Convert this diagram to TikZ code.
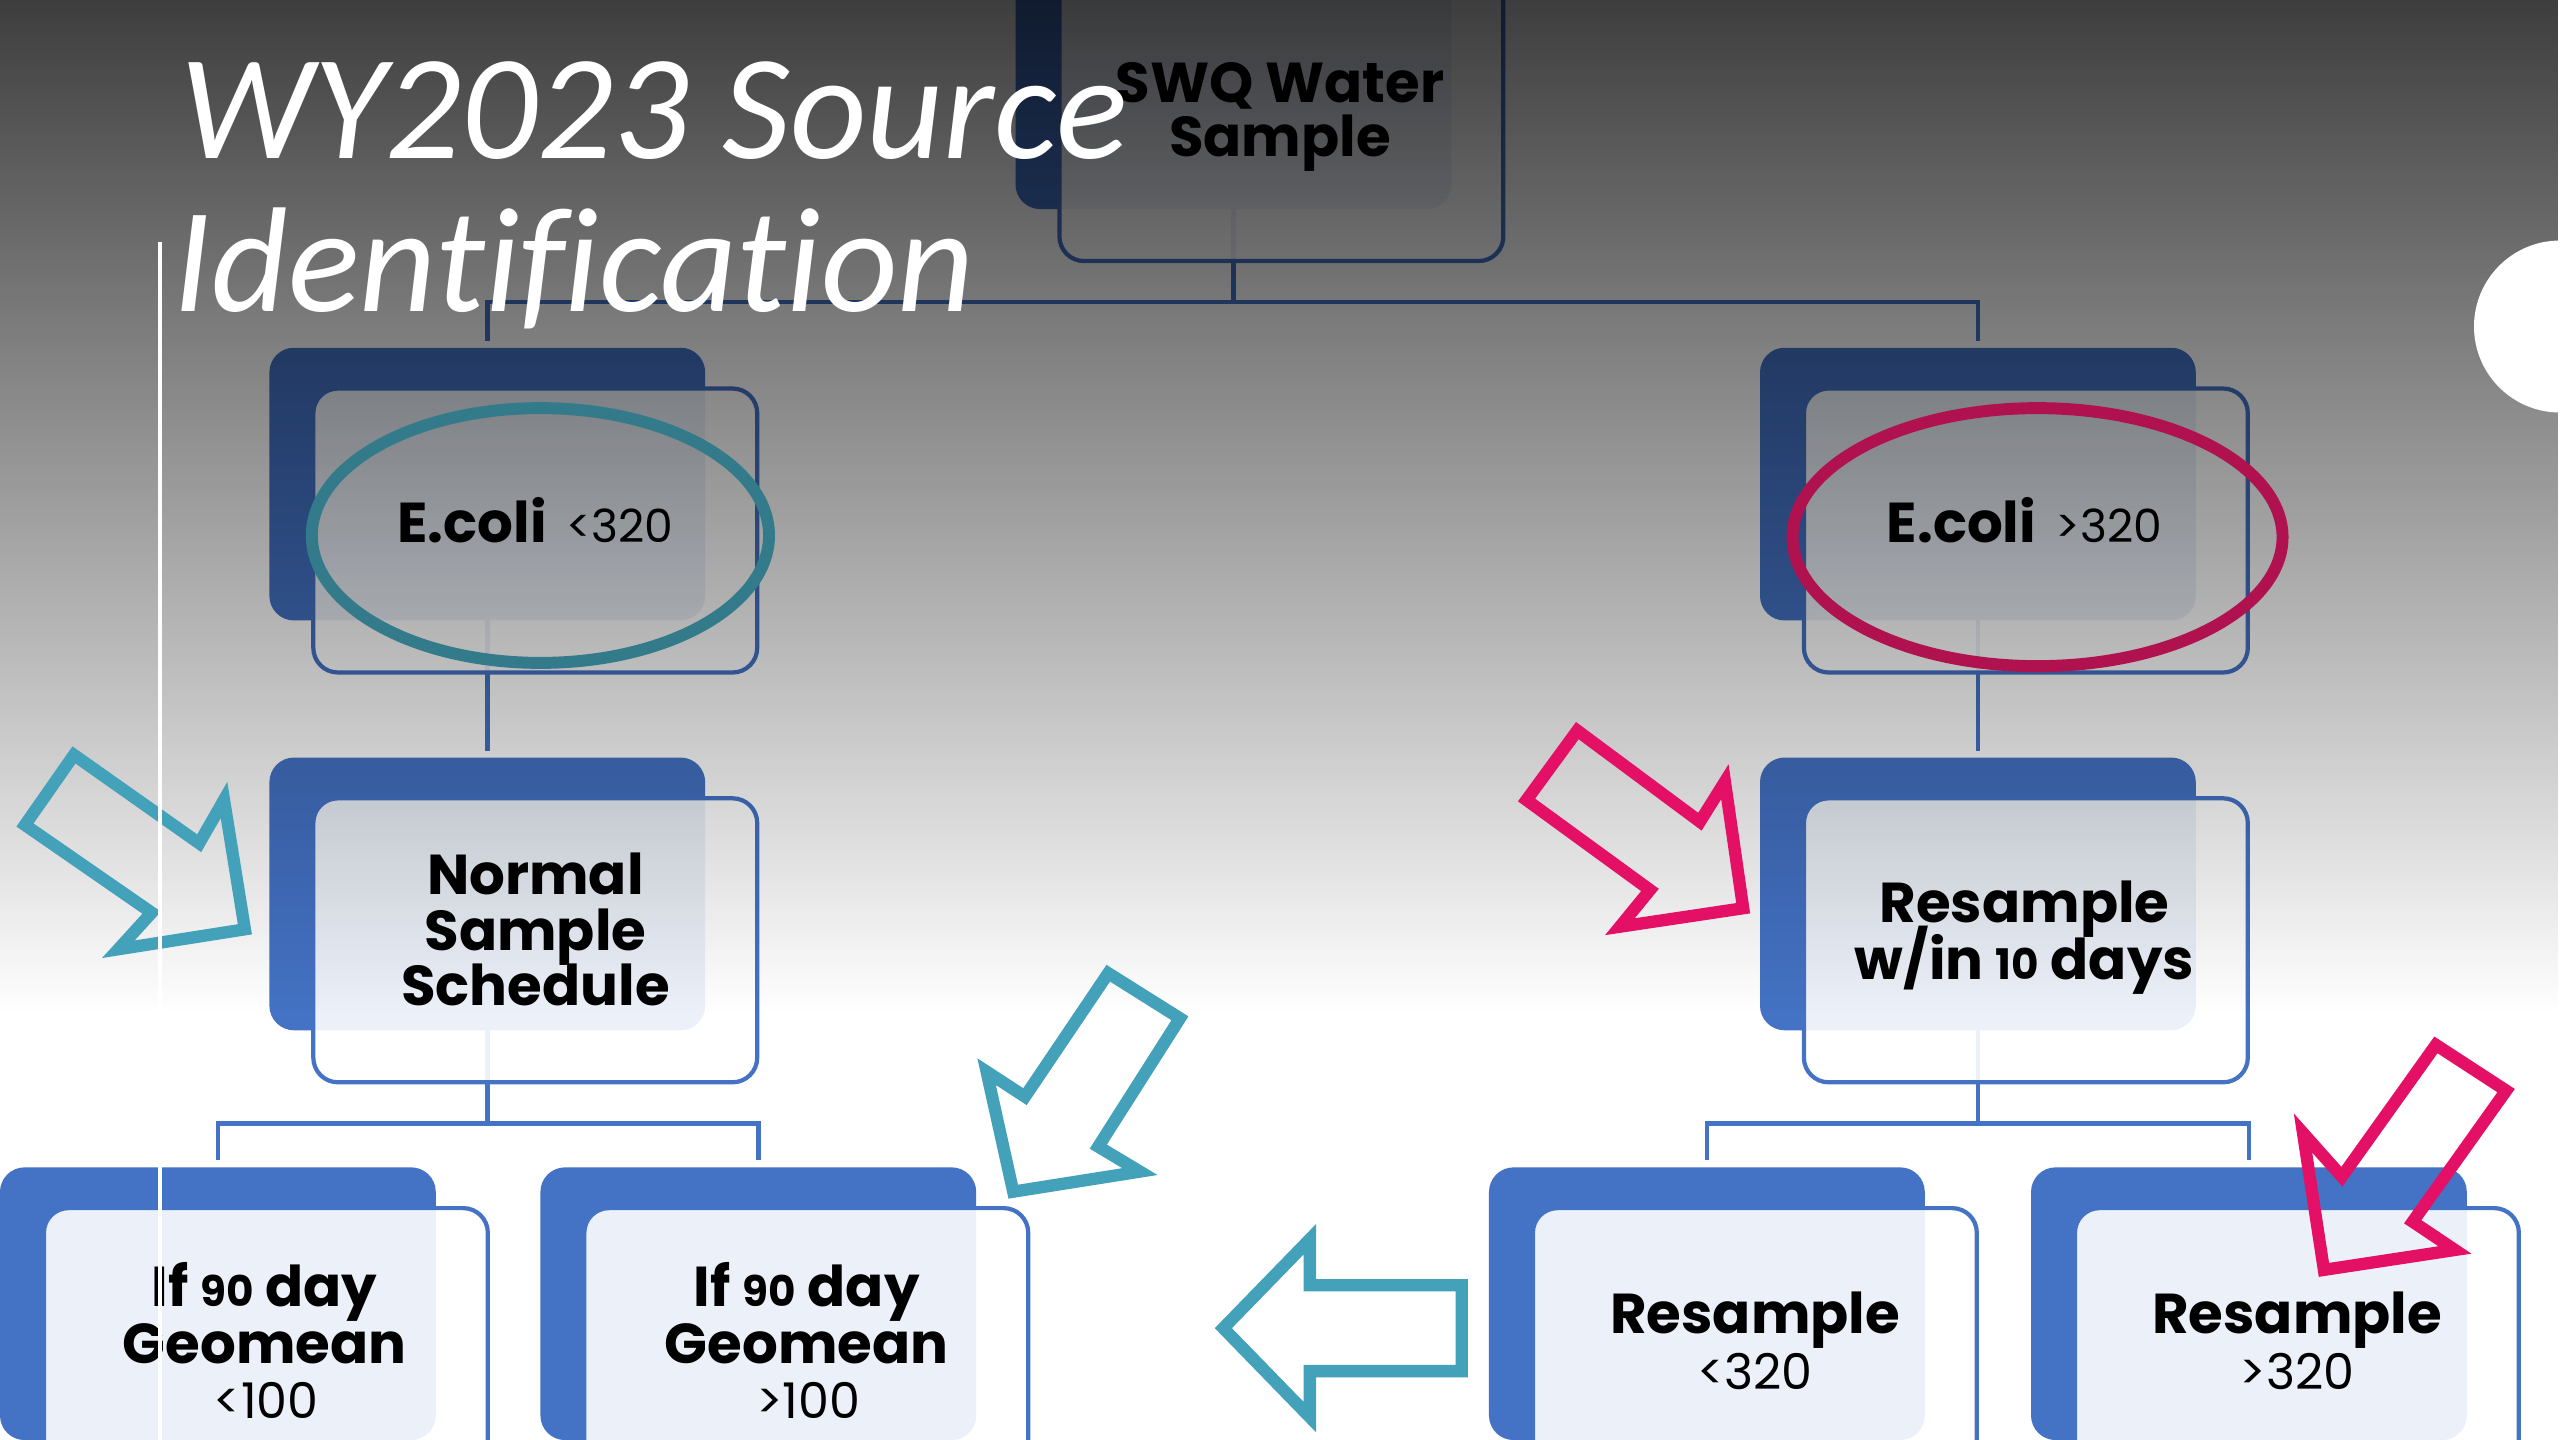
\documentclass[tikz,border=0pt]{standalone}
\usepackage{fontspec}
\newfontfamily\boxfont{Poppins}
\newfontfamily\titlefont{Carlito}[Ligatures=NoCommon]
\usetikzlibrary{fadings}
\definecolor{boxblue}{HTML}{4472C4}
\definecolor{tealA}{HTML}{44A1BA}
\definecolor{magA}{HTML}{E31066}
\definecolor{tealE}{HTML}{337B8B}
\definecolor{magE}{HTML}{B0124F}
\tikzfading[name=fadeov, top color=transparent!24, bottom color=transparent!100]
\begin{document}
\begin{tikzpicture}[x=0.016327cm, y=-0.016327cm,
  bluebox/.style={fill=boxblue, draw=none, rounded corners=7pt, minimum width=124pt, minimum height=77.6pt, inner sep=0pt, outer sep=0pt, anchor=north west},
  outbox/.style={fill=white, fill opacity=0.9, draw=boxblue, draw opacity=1, line width=1.2pt, rounded corners=7pt, minimum width=126.3pt, minimum height=80.8pt, inner sep=0pt, outer sep=0pt, anchor=north west},
  conn/.style={draw=boxblue, line width=1.3pt},
  lbl/.style={anchor=base, inner sep=0pt, font=\boxfont\bfseries\fontsize{16}{16}\selectfont},
  blockarrow/.style={line width=3.5pt, line join=miter, miter limit=10},
  ring/.style={line width=3.4pt},
  ttl/.style={anchor=base west, inner sep=0pt, text=white, font=\titlefont\itshape\fontsize{42.5}{49}\selectfont}
]
\useasboundingbox (0,0) rectangle (1568,882);
\clip (0,0) rectangle (1568,882);
\fill[white] (0,0) rectangle (1568,882);

% back (blue) boxes
\node[bluebox] (swqb) at (622,-39) {};
\node[bluebox] (eclb) at (165,213) {};
\node[bluebox] (ecrb) at (1078,213) {};
\node[bluebox] (nssb) at (165,464) {};
\node[bluebox] (rswb) at (1078,464) {};
\node[bluebox] (g1b) at (0,715) {};
\node[bluebox] (g2b) at (331,715) {};
\node[bluebox] (r1b) at (912,715) {};
\node[bluebox] (r2b) at (1244,715) {};

% connectors
\coordinate (bar1) at (0,185);
\coordinate (bar2) at (0,688);
\draw[conn] (swqb.south) -- (swqb.south |- bar1);
\draw[conn, shorten >=2pt] (swqb.south |- bar1) -| (eclb.north);
\draw[conn, shorten >=2pt] (swqb.south |- bar1) -| (ecrb.north);
\draw[conn, shorten >=2pt] (eclb.south) -- (nssb.north);
\draw[conn, shorten >=2pt] (ecrb.south) -- (rswb.north);
\draw[conn] (nssb.south) -- (nssb.south |- bar2);
\draw[conn, shorten >=2pt] (nssb.south |- bar2) -| (g1b.north);
\draw[conn, shorten >=2pt] (nssb.south |- bar2) -| (g2b.north);
\draw[conn] (rswb.south) -- (rswb.south |- bar2);
\draw[conn, shorten >=2pt] (rswb.south |- bar2) -| (r1b.north);
\draw[conn, shorten >=2pt] (rswb.south |- bar2) -| (r2b.north);

% front (outlined) boxes
\foreach \n in {swq,ecl,ecr,nss,rsw,g1,g2,r1,r2}{
  \node[outbox] (\n) at ([xshift=12.5pt,yshift=-11.6pt]\n b.north west) {};
}

% texts
\node[lbl] (swqt1) at (784,63) {SWQ Water};
\node[lbl] (swqt2) at (784,96) {Sample};
\node[lbl] (eclt) at (328,332) {E.coli {\mdseries\fontsize{13}{16}\selectfont\,<320}};
\node[lbl] (ecrt) at (1240,332) {E.coli {\mdseries\fontsize{13}{16}\selectfont\,>320}};
\node[lbl] (nsst1) at (328,548) {Normal};
\node[lbl] (nsst2) at (328,582) {Sample};
\node[lbl] (nsst3) at (328,616) {Schedule};
\node[lbl] (rswt1) at (1240,565) {Resample};
\node[lbl] (rswt2) at (1240,600) {w/in {\fontsize{12}{16}\selectfont 10} days};
\node[lbl] (g1t1) at (162,800) {If {\fontsize{12}{16}\selectfont 90} day};
\node[lbl] (g1t2) at (162,835) {Geomean};
\node[lbl] (g1t3) at (163,869) {\mdseries\fontsize{14}{16}\selectfont <100};
\node[lbl] (g2t1) at (494,800) {If {\fontsize{12}{16}\selectfont 90} day};
\node[lbl] (g2t2) at (494,835) {Geomean};
\node[lbl] (g2t3) at (495,869) {\mdseries\fontsize{14}{16}\selectfont >100};
\node[lbl] (r1t1) at (1075,817) {Resample};
\node[lbl] (r1t2) at (1075,851) {\mdseries\fontsize{14}{16}\selectfont <320};
\node[lbl] (r2t1) at (1407,817) {Resample};
\node[lbl] (r2t2) at (1407,851) {\mdseries\fontsize{14}{16}\selectfont >320};

% darkening overlay
\fill[black, path fading=fadeov] (0,0) rectangle (1568,620);

% highlight ellipses
\draw[ring, tealE] (331,328) ellipse [x radius=2.286cm, y radius=1.274cm];
\draw[ring, magE] (1248,329) ellipse [x radius=2.45cm, y radius=1.29cm];

% block arrows
\draw[blockarrow, tealA] (45.3,462.4) -- (122,516.5) -- (137.2,490) -- (150,569.2) -- (72.5,581.4) -- (92.9,559) -- (15.3,505.3) -- cycle;
\draw[blockarrow, tealA] (678.8,596.1) -- (722.7,623.7) -- (672.7,702.3) -- (698.2,717.6) -- (620.6,729.9) -- (604.3,656.4) -- (627.8,671.7) -- cycle;
\draw[blockarrow, tealA] (749.3,813.5) -- (802.3,759) -- (802.3,787.2) -- (895.3,787.2) -- (895.3,839.8) -- (802.3,839.8) -- (802.3,868) -- cycle;
\draw[blockarrow, magA] (966.1,447.5) -- (1041.2,503.3) -- (1056.5,478.8) -- (1067.7,556.3) -- (992.2,567.6) -- (1010.6,545.1) -- (935,490) -- cycle;
\draw[blockarrow, magA] (1492,640) -- (1434.4,720.7) -- (1410.6,694) -- (1423.4,777.8) -- (1503.6,765.6) -- (1477.8,748.3) -- (1535,668) -- cycle;

% white rule and circle
\draw[white, line width=1.2pt] (98,148) -- (98,882);
\fill[white] (1568,200) circle [radius=0.86cm];

% title
\node[ttl] (title1) at (110,97) {WY2023 Source};
\node[ttl] (title2) at (106,191) {Identification};
\end{tikzpicture}
\end{document}
